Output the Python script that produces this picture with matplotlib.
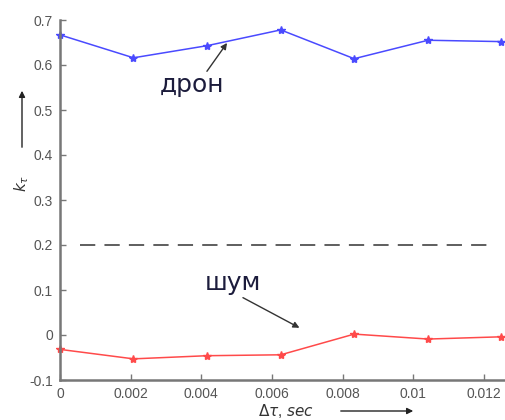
import matplotlib.pyplot as plt
from matplotlib.patches import FancyArrowPatch

# данные
dt = [0.0, 0.00208, 0.00417, 0.00625, 0.00833, 0.01042, 0.0125]
k_dron = [0.667, 0.616, 0.643, 0.678, 0.614, 0.655, 0.652]
k_shum = [-0.032, -0.053, -0.046, -0.044, 0.002, -0.009, -0.004]
threshold = 0.2
thr_x = [0.00057, 0.0122]

xticks = [0, 0.002, 0.004, 0.006, 0.008, 0.01, 0.012]
xticklabels = ["0", "0.002", "0.004", "0.006", "0.008", "0.01", "0.012"]
yticks = [-0.1, 0, 0.1, 0.2, 0.3, 0.4, 0.5, 0.6, 0.7]
yticklabels = ["-0.1", "0", "0.1", "0.2", "0.3", "0.4", "0.5", "0.6", "0.7"]

plt.rcParams['font.family'] = ['Liberation Sans', 'DejaVu Sans']

fig = plt.figure(figsize=(5.05, 4.2), dpi=100)
ax = fig.add_axes([60 / 505, 40 / 420, 445 / 505, 360 / 420])

ax.plot(dt, k_dron, color='#4a4aff', lw=1.1, marker='*', ms=6, clip_on=False)
ax.plot(dt, k_shum, color='#ff4a4a', lw=1.1, marker='*', ms=6, clip_on=False)
ax.plot(thr_x, [threshold, threshold], color='#333333', lw=1.1,
        dashes=(10, 6))

ax.set_xlim(0, 0.0126)
ax.set_ylim(-0.1, 0.7)
ax.set_xticks(xticks)
ax.set_xticklabels(xticklabels)
ax.set_yticks(yticks)
ax.set_yticklabels(yticklabels)

for s in ['top', 'right']:
    ax.spines[s].set_visible(False)
for s in ['left', 'bottom']:
    ax.spines[s].set_color('#777777')
    ax.spines[s].set_linewidth(1.8)
ax.tick_params(direction='in', length=4, width=1, colors='#777777',
               labelcolor='#555555', labelsize=10, pad=5)

# подписи со стрелками
arrow_kw = dict(arrowstyle='-|>', color='#333333', lw=1,
                shrinkA=0, shrinkB=0, mutation_scale=9)
ax.annotate("", xy=(0.00473, 0.649), xytext=(0.00416, 0.586),
            arrowprops=arrow_kw)
ax.text(0.00283, 0.54, "дрон", fontsize=18, color='#1c1c3c',
        family=['DejaVu Sans'], va='baseline')
ax.annotate("", xy=(0.00678, 0.016), xytext=(0.00518, 0.083),
            arrowprops=arrow_kw)
ax.text(0.0041, 0.1, "шум", fontsize=18, color='#1c1c3c',
        family=['DejaVu Sans'], va='baseline')

# обозначения осей со стрелками
fig.text(22 / 505, 1 - 183 / 420, r"$k_\tau$", rotation=90, fontsize=11,
         color='#333333', ha='center', va='center')
fig.add_artist(FancyArrowPatch(
    (22 / 505, 1 - 150 / 420), (22 / 505, 1 - 88 / 420),
    transform=fig.transFigure, arrowstyle='-|>',
    mutation_scale=9, color='#222222', lw=1))
fig.text(258 / 505, 1 - 411 / 420, r"$\Delta\tau$, $sec$", fontsize=11,
         color='#333333', ha='left', va='center')
fig.add_artist(FancyArrowPatch(
    (338 / 505, 1 - 411 / 420), (416 / 505, 1 - 411 / 420),
    transform=fig.transFigure, arrowstyle='-|>',
    mutation_scale=9, color='#222222', lw=1))

fig.savefig("out.png", dpi=100)
